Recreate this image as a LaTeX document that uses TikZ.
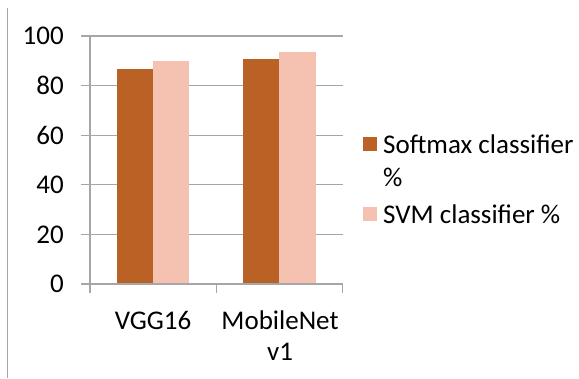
\documentclass[tikz,border=0pt]{standalone}
\usepackage{fontspec}
\setmainfont{Carlito}
\definecolor{gridgray}{HTML}{A6A6A6}
\definecolor{softc}{HTML}{BA6125}
\definecolor{svmc}{HTML}{F5C2B2}
\begin{document}
\begin{tikzpicture}[x=1pt,y=-1pt,
  gridline/.style={draw=gridgray,line width=1.3pt},
  lab/.style={font=\fontsize{27}{32}\selectfont,inner sep=0pt,text=black},
  softbar/.style={fill=softc},
  svmbar/.style={fill=svmc}]
\useasboundingbox (0,0) rectangle (579,378);
% left border line
\draw[draw=gridgray,line width=1.5pt] (7.5,8) -- (7.5,378);
% gridlines and y labels
\foreach \v/\yy in {0/284,20/234.4,40/184.8,60/135.2,80/85.6,100/36}{
  \draw[gridline] (81,\yy) -- (343,\yy);
  \node[lab,anchor=east] (y\v) at (64,\yy) {\v};
}
% axis
\draw[gridline] (90,36) -- (90,293);
\foreach \xx in {216.7,342.7}{
  \draw[gridline] (\xx,284) -- (\xx,293);
}
% bars
\fill[softbar] (117.3,284) rectangle (153.3,69);
\fill[svmbar] (153.3,284) rectangle (189.3,61.3);
\fill[softbar] (243.3,284) rectangle (279.3,59);
\fill[svmbar] (279.3,284) rectangle (315.5,52);
\draw[gridline] (117.3,284) -- (315.5,284);
% category labels
\node[lab] (c1) at (153,320) {VGG16};
\node[lab] (c2) at (280,320) {MobileNet};
\node[lab] (c3) at (280,351.5) {v1};
% legend
\fill[softbar] (363,137) rectangle (377,151);
\fill[svmbar] (363,207) rectangle (377,221);
\node[lab,anchor=west] (l1) at (383,144.5) {Softmax classifier};
\node[lab,anchor=west] (l2) at (383,177) {\%};
\node[lab,anchor=west] (l3) at (383,214) {SVM classifier \%};
\end{tikzpicture}
\end{document}
